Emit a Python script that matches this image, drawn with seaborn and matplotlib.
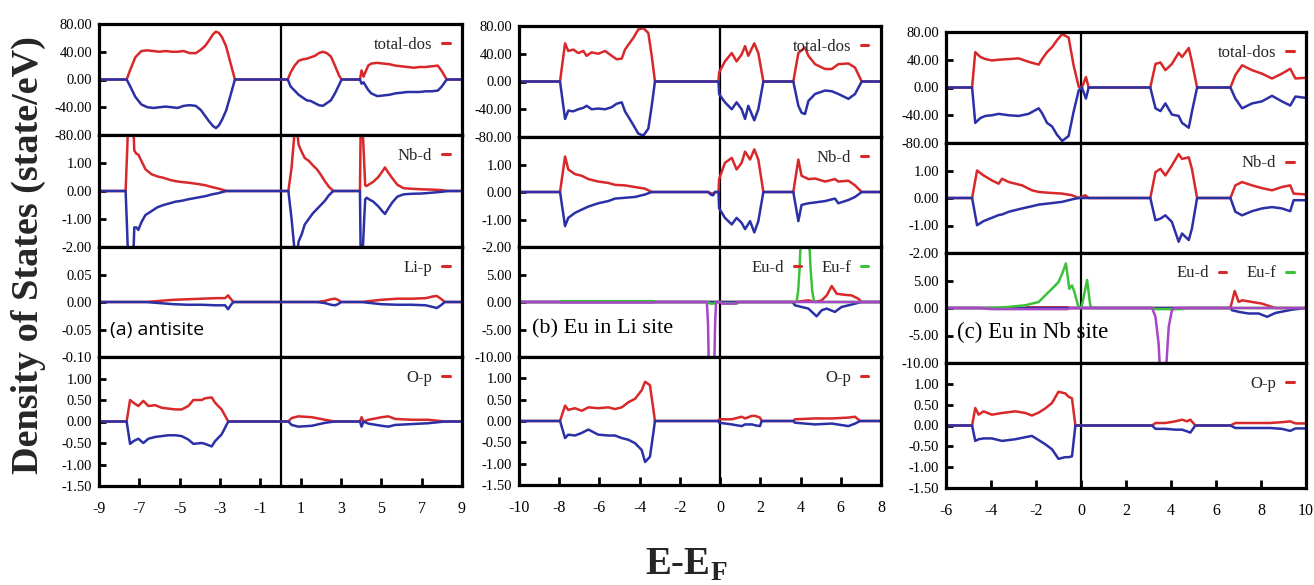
import matplotlib as mpl
import matplotlib.pyplot as plt
from matplotlib.lines import Line2D
from matplotlib.ticker import FormatStrFormatter
import seaborn as sns

# Use a non-interactive backend
mpl.use('Agg')

# ---------------- data (energies in eV, DOS in state/eV) ----------------
# (a) antisite
A_TOT_E = [-9, -7.63, -7.45, -7.2, -6.9, -6.6, -6.3, -6.0, -5.7, -5.4, -5.1, -4.8, -4.5, -4.2, -3.95, -3.75,
           -3.55, -3.35, -3.2, -3.05, -2.9, -2.7, -2.5, -2.26, 0.36, 0.5, 0.7, 0.9, 1.1, 1.3, 1.5, 1.7, 1.9,
           2.1, 2.3, 2.5, 2.7, 2.9, 3.03, 3.94, 4.02, 4.12, 4.2, 4.35, 4.5, 4.8, 5.1, 5.4, 5.7, 6.0, 6.3, 6.6,
           6.9, 7.2, 7.5, 7.8, 8.0, 8.24, 9]
A_TOT_UP = [0, 0, 14, 32, 41, 42, 41, 40, 41, 40, 40, 41, 38, 38, 43, 48, 56, 65, 69, 67, 61, 48, 26, 0,
            0, 10, 20, 27, 29, 30, 32, 34, 38, 40, 38, 33, 20, 6, 0, 0, 13, 4, 10, 20, 23, 24, 23, 22, 20,
            19, 18, 17, 18, 18, 19, 20, 12, 0, 0]
A_TOT_DN = [0, 0, -10, -25, -36, -40, -41, -40, -39, -40, -41, -38, -37, -38, -44, -52, -60, -67, -70, -66,
            -58, -45, -25, 0, 0, -10, -16, -22, -26, -30, -31, -34, -37, -38, -34, -30, -20, -8, 0, 0, -6,
            -4, -8, -15, -20, -24, -23, -22, -20, -19, -18, -18, -18, -17, -17, -16, -10, 0, 0]

A_NB_E = [-9, -7.68, -7.6, -7.55, -7.4, -7.3, -7.25, -7.15, -7.05, -6.9, -6.7, -6.4, -6.1, -5.8, -5.5, -5.2,
          -4.9, -4.6, -4.3, -4.0, -3.7, -3.4, -3.1, -2.9, -2.67, 0.39, 0.55, 0.72, 0.8, 0.9, 1.05, 1.2, 1.4,
          1.6, 1.8, 2.0, 2.2, 2.4, 2.62, 3.94, 3.98, 4.05, 4.15, 4.2, 4.27, 4.4, 4.6, 4.85, 5.05, 5.18, 5.35,
          5.55, 5.8, 6.1, 6.5, 7.0, 7.5, 8.0, 8.3, 9]
A_NB_UP = [0, 0, 1.5, 2.6, 2.6, 2.4, 1.45, 1.33, 1.3, 1.08, 0.78, 0.6, 0.52, 0.47, 0.4, 0.35, 0.32, 0.3,
           0.27, 0.24, 0.2, 0.14, 0.09, 0.05, 0, 0, 0.84, 2.3, 2.3, 1.65, 1.4, 1.18, 1.08, 0.92, 0.78, 0.58,
           0.35, 0.15, 0, 0, 2.6, 2.6, 1.0, 0.2, 0.18, 0.24, 0.33, 0.5, 0.7, 0.84, 0.65, 0.45, 0.22, 0.1,
           0.08, 0.06, 0.05, 0.03, 0, 0]
A_NB_DN = [0, 0, -1.5, -2.6, -2.6, -2.4, -1.3, -1.3, -1.39, -1.12, -0.86, -0.72, -0.58, -0.5, -0.44, -0.38,
           -0.35, -0.3, -0.26, -0.22, -0.18, -0.12, -0.08, -0.04, 0, 0, -1.0, -2.3, -2.3, -1.8, -1.55, -1.2,
           -1.0, -0.8, -0.65, -0.5, -0.35, -0.15, 0, 0, -2.6, -2.6, -1.0, -0.3, -0.24, -0.3, -0.38, -0.55,
           -0.72, -0.82, -0.62, -0.4, -0.2, -0.12, -0.1, -0.09, -0.06, -0.03, 0, 0]

A_LI_E = [-9, -6.7, -6.0, -5.3, -4.6, -3.9, -3.2, -2.75, -2.6, -2.45, -2.34, 1.8, 2.2, 2.5, 2.7, 2.85, 3.0,
          4.0, 5.0, 5.8, 6.5, 7.2, 7.55, 7.75, 7.95, 8.15, 9]
A_LI_UP = [0, 0, 0.002, 0.004, 0.005, 0.006, 0.007, 0.007, 0.012, 0.005, 0, 0, 0.002, 0.005, 0.006, 0.004,
           0, 0, 0.004, 0.006, 0.006, 0.007, 0.01, 0.011, 0.006, 0, 0]
A_LI_DN = [0, 0, -0.002, -0.004, -0.005, -0.005, -0.006, -0.006, -0.013, -0.005, 0, 0, -0.002, -0.005,
           -0.006, -0.004, 0, 0, -0.004, -0.005, -0.005, -0.006, -0.009, -0.011, -0.006, 0, 0]

A_OP_E = [-9, -7.63, -7.46, -7.3, -7.05, -6.8, -6.55, -6.22, -5.89, -5.56, -5.2, -4.9, -4.57, -4.32, -3.91,
          -3.74, -3.41, -3.25, -2.92, -2.59, 0.39, 0.55, 0.88, 1.55, 2.21, 2.7, 3.94, 4.02, 4.11, 4.36, 5.02,
          5.35, 5.68, 6.5, 7.33, 8.16, 9]
A_OP_UP = [0, 0, 0.5, 0.44, 0.36, 0.48, 0.36, 0.38, 0.32, 0.3, 0.28, 0.28, 0.36, 0.5, 0.5, 0.54, 0.56, 0.44,
           0.28, 0, 0, 0.08, 0.12, 0.1, 0.04, 0, 0, 0.1, 0.0, 0.04, 0.1, 0.12, 0.06, 0.04, 0.04, 0, 0]
A_OP_DN = [0, 0, -0.52, -0.46, -0.4, -0.5, -0.4, -0.36, -0.34, -0.32, -0.32, -0.34, -0.42, -0.52, -0.5,
           -0.52, -0.58, -0.46, -0.3, 0, 0, -0.08, -0.12, -0.1, -0.03, 0, 0, -0.12, 0.0, -0.05, -0.1, -0.12,
           -0.08, -0.06, -0.04, 0, 0]

# (b) Eu in Li site
B_TOT_E = [-10, -7.96, -7.71, -7.55, -7.3, -7.05, -6.8, -6.64, -6.39, -6.06, -5.72, -5.39, -5.14, -4.89,
           -4.73, -4.56, -4.31, -4.07, -3.82, -3.57, -3.4, -3.24, -0.08, -0.05, 0.24, 0.58, 0.82, 1.07, 1.24,
           1.40, 1.70, 1.90, 2.15, 3.64, 3.89, 4.05, 4.22, 4.39, 4.72, 5.22, 5.55, 5.88, 6.38, 6.71, 7.04, 8]
B_TOT_UP = [0, 0, 55, 44, 46, 41, 44, 37, 42, 40, 44, 37, 32, 33, 46, 53, 63, 75, 77, 70, 37, 0,
            0, 13, 29, 41, 29, 39, 51, 37, 55, 41, 0, 0, 41, 45, 49, 37, 25, 18, 18, 25, 26, 20, 0, 0]
B_TOT_DN = [0, 0, -54, -42, -43, -40, -38, -35, -40, -39, -40, -37, -32, -30, -43, -51, -63, -75, -78, -68,
            -35, 0, 0, -18, -30, -40, -30, -40, -54, -35, -56, -40, 0, 0, -35, -45, -47, -28, -18, -13, -14,
            -18, -25, -18, 0, 0]

B_NB_E = [-10, -7.96, -7.71, -7.55, -7.22, -6.88, -6.55, -6.06, -5.56, -5.23, -4.73, -4.23, -3.73, -3.40,
          -0.6, -0.45, -0.35, -0.25, -0.08, -0.05, 0.24, 0.58, 0.82, 1.07, 1.24, 1.49, 1.70, 1.90, 2.15, 3.64,
          3.89, 4.05, 4.39, 4.72, 5.22, 5.71, 5.88, 6.38, 6.71, 7.04, 8]
B_NB_UP = [0, 0, 1.29, 0.82, 0.65, 0.59, 0.47, 0.38, 0.33, 0.26, 0.24, 0.18, 0.12, 0, 0, -0.05, -0.06, 0,
           0, 0.47, 1.06, 1.24, 0.82, 1.06, 1.47, 1.18, 1.55, 1.18, 0, 0, 1.18, 0.59, 0.47, 0.49, 0.38,
           0.47, 0.38, 0.41, 0.24, 0, 0]
B_NB_DN = [0, 0, -1.24, -0.94, -0.76, -0.64, -0.53, -0.41, -0.33, -0.24, -0.21, -0.18, -0.09, 0, 0, -0.1,
           -0.12, 0, 0, -0.59, -0.94, -1.18, -0.94, -1.12, -1.35, -1.06, -1.47, -1.06, 0, 0, -1.06, -0.47,
           -0.41, -0.38, -0.33, -0.24, -0.41, -0.29, -0.18, 0, 0]

B_EUD_UP_E = [-10, -8.0, -7.9, -3.3, -3.2, 3.72, 4.39, 4.72, 5.05, 5.30, 5.55, 5.80, 6.21, 6.54, 6.87,
              7.04, 8]
B_EUD_UP = [0, 0, 0.1, 0.1, 0, 0, 0.3, 0, 0.3, 1.2, 2.9, 1.5, 1.3, 1.2, 0.6, 0, 0]
B_EUD_DN_E = [-10, 3.6, 3.72, 4.05, 4.39, 4.80, 5.05, 5.30, 5.71, 6.04, 6.38, 6.71, 7.04, 8]
B_EUD_DN = [0, 0, -0.6, -0.9, -1.2, -2.6, -1.5, -1.2, -1.8, -0.9, -0.6, -0.3, 0, 0]
B_EUF_UP_E = [-10, -8.0, -7.9, -3.3, -3.2, -0.62, -0.5, -0.3, -0.2, 0.0, 0.1, 0.9, 1.0, 3.8, 3.88, 3.95,
              4.02, 4.42, 4.5, 4.58, 4.66, 4.75, 8]
B_EUF_UP = [0, 0, 0.15, 0.15, 0, 0, -0.3, -0.3, 0, 0, -0.2, -0.2, 0, 0, 2, 6, 12, 12, 6, 2, 0.3, 0, 0]
B_EUF_DN_E = [-10, -8.0, -7.9, -3.3, -3.2, -0.66, -0.6, -0.55, -0.3, -0.25, -0.2, 0.0, 0.1, 0.8, 0.9, 8]
B_EUF_DN = [0, 0, -0.1, -0.1, 0, 0, -4, -14, -14, -4, 0, 0, -0.3, -0.3, 0, 0]

B_OP_E = [-10, -7.96, -7.71, -7.55, -7.22, -6.88, -6.55, -6.06, -5.56, -5.23, -4.89, -4.56, -4.23, -3.90,
          -3.73, -3.49, -3.32, -3.24, -0.08, -0.05, 0.58, 1.07, 1.24, 1.58, 1.74, 1.98, 2.07, 3.64, 3.72,
          4.72, 5.55, 6.38, 6.71, 6.96, 8]
B_OP_UP = [0, 0, 0.36, 0.26, 0.3, 0.24, 0.32, 0.3, 0.32, 0.28, 0.32, 0.44, 0.52, 0.72, 0.92, 0.84, 0.28, 0,
           0, 0.04, 0.04, 0.1, 0.06, 0.12, 0.12, 0.08, 0, 0, 0.04, 0.06, 0.06, 0.08, 0.1, 0, 0]
B_OP_DN = [0, 0, -0.4, -0.32, -0.34, -0.28, -0.2, -0.32, -0.34, -0.34, -0.4, -0.44, -0.52, -0.68, -0.96,
           -0.84, -0.28, 0, 0, -0.04, -0.08, -0.12, -0.08, -0.08, -0.1, -0.12, 0, 0, -0.04, -0.08, -0.06,
           -0.12, -0.06, 0, 0]

# (c) Eu in Nb site
C_TOT_E = [-6, -4.84, -4.70, -4.47, -4.25, -3.96, -3.66, -3.21, -2.77, -2.33, -1.88, -1.73, -1.51, -1.29,
           -1.07, -0.84, -0.55, -0.33, -0.10, 0.04, 0.22, 0.34, 3.08, 3.31, 3.53, 3.75, 4.04, 4.34, 4.49,
           4.79, 4.93, 5.16, 6.64, 6.86, 7.16, 7.60, 8.04, 8.49, 8.93, 9.30, 9.53, 10.0]
C_TOT_UP = [0, 0, 51, 44, 41, 39, 40, 41, 42, 37, 33, 41, 51, 58, 68, 77, 72, 32, 1, 0, 15, 0,
            0, 34, 36, 25, 34, 50, 44, 57, 37, 0, 0, 18, 32, 25, 20, 13, 20, 27, 13, 14]
C_TOT_DN = [0, 0, -51, -44, -41, -40, -38, -40, -41, -38, -30, -37, -51, -56, -68, -77, -70, -35, -4, 0,
            -16, 0, 0, -30, -34, -23, -39, -41, -51, -58, -35, 0, 0, -16, -30, -23, -20, -12, -20, -26,
            -13, -15]

C_NB_E = [-6, -4.84, -4.62, -4.33, -3.96, -3.66, -3.51, -3.21, -2.62, -2.18, -1.88, -1.44, -0.84, -0.40,
          -0.10, 0.19, 0.34, 3.08, 3.31, 3.53, 3.75, 4.04, 4.34, 4.49, 4.79, 4.93, 5.16, 6.64, 6.86, 7.16,
          7.60, 8.04, 8.49, 8.93, 9.30, 9.45, 10.0]
C_NB_UP = [0, 0, 1.0, 0.82, 0.64, 0.52, 0.7, 0.58, 0.46, 0.28, 0.22, 0.19, 0.16, 0.1, 0, 0.1, 0,
           0, 0.94, 1.06, 0.82, 1.18, 1.6, 1.42, 1.48, 1.06, 0, 0, 0.46, 0.58, 0.46, 0.36, 0.28, 0.4,
           0.46, 0.16, 0.13]
C_NB_DN = [0, 0, -0.99, -0.84, -0.72, -0.62, -0.6, -0.5, -0.38, -0.3, -0.24, -0.2, -0.14, -0.05, 0, 0, 0,
           0, -0.81, -0.75, -0.63, -0.87, -1.59, -1.29, -1.53, -1.11, 0, 0, -0.5, -0.63, -0.48, -0.38,
           -0.33, -0.38, -0.48, -0.08, -0.08]

C_EUF_UP_E = [-6, -4.0, -3.21, -2.47, -1.88, -1.59, -1.29, -1.00, -0.84, -0.67, -0.52, -0.40, -0.30, -0.12,
              0.01, 0.12, 0.27, 0.41, 0.49, 3.16, 3.3, 4.5, 4.7, 10]
C_EUF_UP = [0, 0, 0.2, 0.5, 1.1, 2.3, 3.5, 4.7, 6.2, 8.1, 3.5, 4.1, 3.0, 0.3, 0, 2.0, 5.1, 0.5, 0, 0,
            -0.2, -0.2, 0, 0]
C_EUF_DN_E = [-6, -4.5, -4.0, -0.6, -0.5, 3.16, 3.31, 3.45, 3.53, 3.75, 3.90, 4.04, 4.19, 10]
C_EUF_DN = [0, 0, -0.2, -0.2, 0, 0, -1.6, -6.5, -13, -13, -3.4, -0.4, 0, 0]
C_EUD_UP_E = [-6, -2.5, -2.4, -0.6, -0.5, 6.64, 6.83, 7.01, 7.16, 7.60, 8.04, 8.41, 8.64, 10]
C_EUD_UP = [0, 0, 0.12, 0.12, 0, 0, 3.1, 1.1, 1.4, 1.1, 0.8, 0.3, 0, 0]
C_EUD_DN_E = [-6, 6.64, 6.71, 7.01, 7.45, 7.90, 8.27, 8.64, 9.38, 10]
C_EUD_DN = [0, 0, -0.4, -0.7, -1.0, -1.0, -1.6, -0.9, -0.3, 0]

C_OP_E = [-6, -4.84, -4.70, -4.55, -4.33, -3.96, -3.51, -2.92, -2.47, -2.18, -1.88, -1.59, -1.29, -1.00,
          -0.70, -0.55, -0.40, -0.25, 3.16, 3.31, 3.75, 4.19, 4.49, 4.71, 4.86, 5.08, 6.64, 6.86, 7.60, 8.41,
          8.93, 9.30, 9.53, 10]
C_OP_UP = [0, 0, 0.42, 0.26, 0.34, 0.26, 0.3, 0.34, 0.3, 0.24, 0.31, 0.41, 0.54, 0.81, 0.77, 0.69, 0.65, 0,
           0, 0.06, 0.06, 0.1, 0.14, 0.1, 0.14, 0, 0, 0.06, 0.06, 0.06, 0.08, 0.1, 0.05, 0.05]
C_OP_DN = [0, 0, -0.37, -0.33, -0.31, -0.31, -0.37, -0.33, -0.28, -0.25, -0.35, -0.45, -0.57, -0.8, -0.76,
           -0.76, -0.74, 0, 0, -0.08, -0.08, -0.1, -0.1, -0.14, -0.17, 0, 0, -0.06, -0.06, -0.06, -0.08,
           -0.13, -0.07, -0.07]

# ---------------- style ----------------
sns.set_theme(style='white')
plt.rcParams['font.family'] = ['Liberation Serif', 'DejaVu Serif']
plt.rcParams['axes.unicode_minus'] = False
plt.rcParams['mathtext.fontset'] = 'custom'
plt.rcParams['mathtext.rm'] = 'Liberation Serif'
plt.rcParams['mathtext.bf'] = 'Liberation Serif:bold'

RED = '#d8282a'
BLUE = '#2c30a6'
GREEN = '#3cc23a'
PURPLE = '#a746c6'

W, H = 1314, 585
fig = plt.figure(figsize=(13.14, 5.85), dpi=100)

ROWS = [
    dict(ylim=(-80, 80), yticks=[-80, -40, 0, 40, 80], legend=[('total-dos', RED)]),
    dict(ylim=(-2, 2), yticks=[-2, -1, 0, 1], legend=[('Nb-d', RED)]),
    None,  # third row differs per column
    dict(ylim=(-1.5, 1.5), yticks=[-1.5, -1, -0.5, 0, 0.5, 1], legend=[('O-p', RED)]),
]
LI_ROW = dict(ylim=(-0.1, 0.1), yticks=[-0.1, -0.05, 0, 0.05], legend=[('Li-p', RED)])
EU_ROW = dict(ylim=(-10, 10), yticks=[-10, -5, 0, 5], legend=[('Eu-d', RED), ('Eu-f', GREEN)])

COLUMNS = [
    dict(left=99, right=462, edges=[24, 135, 247, 357, 486], xlim=(-9, 9), xticks=list(range(-9, 10, 2)),
         row3=LI_ROW, label='(a) antisite', label_pos=(0.03, 0.25), label_font=['Open Sans'], label_size=14,
         curves=[
             [(A_TOT_E, A_TOT_UP, RED), (A_TOT_E, A_TOT_DN, BLUE)],
             [(A_NB_E, A_NB_UP, RED), (A_NB_E, A_NB_DN, BLUE)],
             [(A_LI_E, A_LI_UP, RED), (A_LI_E, A_LI_DN, BLUE)],
             [(A_OP_E, A_OP_UP, RED), (A_OP_E, A_OP_DN, BLUE)],
         ]),
    dict(left=519, right=881, edges=[26, 137, 247, 357, 485], xlim=(-10, 8), xticks=list(range(-10, 9, 2)),
         row3=EU_ROW, label='(b) Eu in Li site', label_pos=(0.035, 0.26), label_font=['Liberation Serif'],
         label_size=16,
         curves=[
             [(B_TOT_E, B_TOT_UP, RED), (B_TOT_E, B_TOT_DN, BLUE)],
             [(B_NB_E, B_NB_UP, RED), (B_NB_E, B_NB_DN, BLUE)],
             [(B_EUD_UP_E, B_EUD_UP, RED), (B_EUD_DN_E, B_EUD_DN, BLUE),
              (B_EUF_UP_E, B_EUF_UP, GREEN), (B_EUF_DN_E, B_EUF_DN, PURPLE)],
             [(B_OP_E, B_OP_UP, RED), (B_OP_E, B_OP_DN, BLUE)],
         ]),
    dict(left=946, right=1306, edges=[32, 143, 253, 363, 488], xlim=(-6, 10), xticks=list(range(-6, 11, 2)),
         row3=EU_ROW, label='(c) Eu in Nb site', label_pos=(0.03, 0.28), label_font=['Liberation Serif'],
         label_size=16.5,
         curves=[
             [(C_TOT_E, C_TOT_UP, RED), (C_TOT_E, C_TOT_DN, BLUE)],
             [(C_NB_E, C_NB_UP, RED), (C_NB_E, C_NB_DN, BLUE)],
             [(C_EUD_UP_E, C_EUD_UP, RED), (C_EUD_DN_E, C_EUD_DN, BLUE),
              (C_EUF_UP_E, C_EUF_UP, GREEN), (C_EUF_DN_E, C_EUF_DN, PURPLE)],
             [(C_OP_E, C_OP_UP, RED), (C_OP_E, C_OP_DN, BLUE)],
         ]),
]


def box(l, r, t, b):
    return [l / W, 1 - b / H, (r - l) / W, (b - t) / H]


for col in COLUMNS:
    for i in range(4):
        spec = ROWS[i] if ROWS[i] is not None else col['row3']
        e = col['edges']
        ax = fig.add_axes(box(col['left'], col['right'], e[i], e[i + 1]))
        for E, vals, c in col['curves'][i]:
            sns.lineplot(x=E, y=vals, ax=ax, color=c, lw=1.8, estimator=None, sort=False)
        ax.axvline(0, color='black', lw=1.6, zorder=1)
        ax.set_xlim(*col['xlim'])
        ax.set_ylim(*spec['ylim'])
        ax.set_yticks(spec['yticks'])
        ax.yaxis.set_major_formatter(FormatStrFormatter('%.2f'))
        ax.set_xticks(col['xticks'])
        ax.set_xlabel('')
        ax.set_ylabel('')
        for s in ax.spines.values():
            s.set_color('black')
            s.set_linewidth(2.3)
        ax.tick_params(axis='y', direction='in', length=5, width=2, left=True, labelsize=10.5, pad=5,
                       colors='black')
        if i == 3:
            ax.tick_params(axis='x', direction='in', length=6, width=2, bottom=True, labelsize=11.5, pad=11,
                           colors='black')
        else:
            ax.tick_params(axis='x', bottom=False, labelbottom=False)
        handles = [Line2D([], [], color=c, lw=2.2) for _, c in spec['legend']]
        labels = [t for t, _ in spec['legend']]
        ax.legend(handles, labels, loc='upper right', frameon=False, markerfirst=False, handlelength=0.45,
                  handletextpad=0.6, fontsize=12, ncol=len(labels), columnspacing=1.2, borderaxespad=0.35)
        if i == 2:
            ax.text(*col['label_pos'], col['label'], transform=ax.transAxes, va='center', ha='left',
                    fontsize=col['label_size'], family=col['label_font'], color='black')

fig.text(28 / W, 1 - 255 / H, 'Density of States (state/eV)', rotation=90, fontsize=27.5, fontweight='bold',
         ha='center', va='center')
fig.text(645 / W, 10 / H, r'E-E$_\mathbf{F}$', fontsize=28, fontweight='bold', ha='left', va='baseline')

fig.savefig('out.png', dpi=100)
plt.close(fig)
